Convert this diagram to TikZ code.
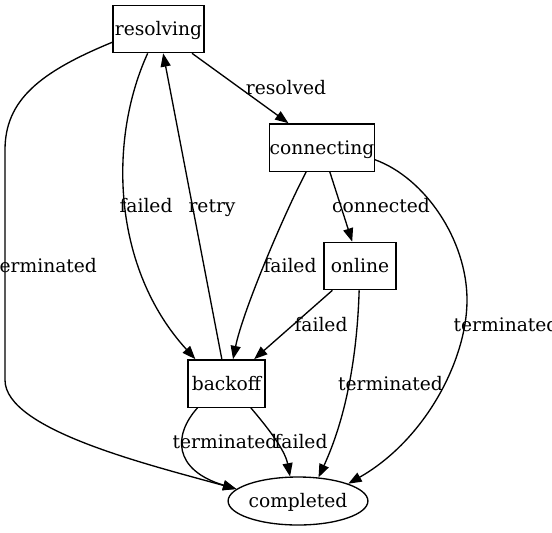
\documentclass[tikz,border=0pt]{standalone}
\usepackage{fontspec}
\setmainfont{DejaVu Serif}
\usetikzlibrary{arrows.meta,shapes.geometric}
\begin{document}
\begin{tikzpicture}[x=0.75pt,y=-0.75pt,
  font=\fontsize{14pt}{16pt}\selectfont,
  every node/.style={text height=12pt,text depth=2pt},
  state/.style={draw,line width=1pt,rectangle,inner sep=0pt,minimum height=35.5pt},
  final/.style={draw,line width=1pt,ellipse,inner sep=0pt,minimum width=101.25pt,minimum height=36pt},
  lbl/.style={inner sep=0pt},
  edge/.style={line width=1pt,-{Triangle[length=10pt,width=7.5pt]}}]
\useasboundingbox (0,0) rectangle (552,532);
\node[state,minimum width=68.25pt] (res) at (158.5,29) {resolving};
\node[state,minimum width=78pt] (con) at (322,147.5) {connecting};
\node[state,minimum width=54pt] (onl) at (360,266) {online};
\node[state,minimum width=57.75pt] (bo) at (226.5,383.5) {backoff};
\node[final] (comp) at (298,501) {completed};
% edges
\draw[edge] (res) -- (con);
\draw[edge] (res.246) .. controls (108,140) and (112,268) .. (bo.142);
\draw[edge] (bo) -- (res);
\draw[edge] (res.196) .. controls (40,72) and (5,100) .. (5,150) -- (5,380) .. controls (5,430) and (150,465) .. (comp.169);
\draw[edge] (con.237) .. controls (285,212) and (243,310) .. (bo.75);
\draw[edge] (con) -- (onl);
\draw[edge] (con.-13.5) .. controls (425,178) and (467,240) .. (467,300) .. controls (467,360) and (425,440) .. (comp.19.5);
\draw[edge] (onl) -- (bo);
\draw[edge] (onl.-92) .. controls (357,360) and (345,420) .. (comp.49);
\draw[edge] (bo.220) .. controls (173,435) and (173,470) .. (comp.169);
\draw[edge] (bo.-45) .. controls (268,428) and (285,450) .. (comp.108);
% labels
\node[lbl] (l1) at (286,88) {resolved};
\node[lbl] (l2) at (146,206) {failed};
\node[lbl] (l3) at (212,206) {retry};
\node[lbl] (l4) at (44.5,266) {terminated};
\node[lbl] (l5) at (290,266) {failed};
\node[lbl] (l6) at (381,206) {connected};
\node[lbl] (l7) at (506,325) {terminated};
\node[lbl] (l8) at (321,325) {failed};
\node[lbl] (l9) at (390.5,384) {terminated};
\node[lbl] (l10) at (225,442) {terminated};
\node[lbl] (l11) at (301,442) {failed};
\end{tikzpicture}
\end{document}
